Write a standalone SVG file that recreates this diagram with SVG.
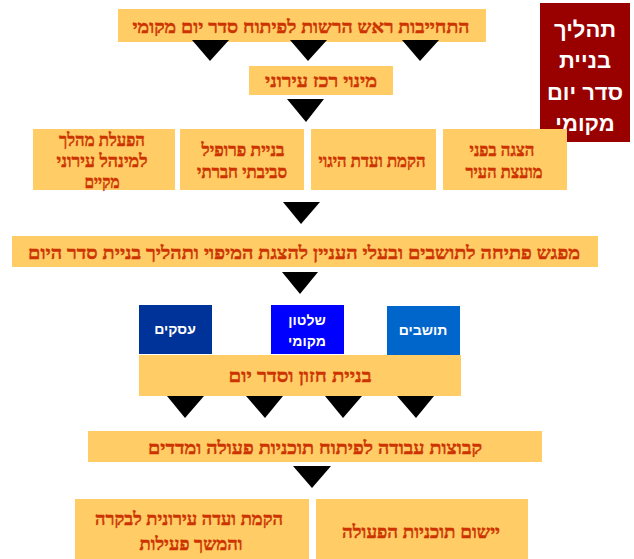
<svg xmlns="http://www.w3.org/2000/svg" width="634" height="559" viewBox="0 0 634 559">
<style>
.b{fill:#FFCC66;}
.t{font-family:"Liberation Serif","DejaVu Sans",serif;font-weight:bold;fill:#CC3300;stroke:#CC3300;stroke-width:0.45;text-anchor:middle;font-size:18px;}
.w{font-family:"Liberation Sans","DejaVu Sans",sans-serif;font-weight:bold;fill:#FFFFFF;text-anchor:middle;}
.a{fill:#000000;}
</style>
<rect x="0" y="0" width="634" height="559" fill="#FFFFFF"/>
<g id="title">
<rect x="540" y="3" width="90" height="139" fill="#990000"/>
<text class="w" font-size="22" x="585" y="37">תהליך</text>
<text class="w" font-size="22" x="585" y="68">בניית</text>
<text class="w" font-size="22" x="585" y="100">סדר יום</text>
<text class="w" font-size="22" x="585" y="131">מקומי</text>
</g>
<g id="n1"><rect class="b" x="118" y="9" width="368" height="33"/><text class="t" x="301" y="33" font-size="19" textLength="337" lengthAdjust="spacingAndGlyphs">התחייבות ראש הרשות לפיתוח סדר יום מקומי</text></g>
<g id="n2"><rect class="b" x="249" y="66" width="144" height="29"/><text class="t" x="321" y="87" textLength="112" lengthAdjust="spacingAndGlyphs">מינוי רכז עירוני</text></g>
<g id="n3"><rect class="b" x="33" y="129" width="142" height="61"/><text class="t" x="102" y="146" textLength="86" lengthAdjust="spacingAndGlyphs">הפעלת מהלך</text><text class="t" x="102" y="167" textLength="91" lengthAdjust="spacingAndGlyphs">למינהל עירוני</text><text class="t" x="102" y="188" textLength="35" lengthAdjust="spacingAndGlyphs">מקיים</text></g>
<g id="n4"><rect class="b" x="180" y="129" width="124" height="61"/><text class="t" x="243" y="156" textLength="83" lengthAdjust="spacingAndGlyphs">בניית פרופיל</text><text class="t" x="242" y="178" textLength="90" lengthAdjust="spacingAndGlyphs">סביבתי חברתי</text></g>
<g id="n5"><rect class="b" x="311" y="129" width="125" height="61"/><text class="t" x="372" y="167" textLength="107" lengthAdjust="spacingAndGlyphs">הקמת ועדת היגוי</text></g>
<g id="n6"><rect class="b" x="443" y="129" width="124" height="61"/><text class="t" x="502" y="156" textLength="65" lengthAdjust="spacingAndGlyphs">הצגה בפני</text><text class="t" x="504" y="178" textLength="77" lengthAdjust="spacingAndGlyphs">מועצת העיר</text></g>
<g id="n7"><rect class="b" x="12" y="236" width="586" height="31"/><text class="t" x="304" y="259" font-size="19" textLength="552" lengthAdjust="spacingAndGlyphs">מפגש פתיחה לתושבים ובעלי העניין להצגת המיפוי ותהליך בניית סדר היום</text></g>
<g id="n8"><rect x="139" y="305" width="73" height="49" fill="#003399"/><text class="w" font-size="14" x="175" y="334">עסקים</text></g>
<g id="n9"><rect x="271" y="305" width="73" height="49" fill="#0000FF"/><text class="w" font-size="14" x="307" y="325">שלטון</text><text class="w" font-size="14" x="307" y="346">מקומי</text></g>
<g id="n10"><rect x="387" y="306" width="73" height="49" fill="#0066CC"/><text class="w" font-size="14" x="423" y="335">תושבים</text></g>
<g id="n11"><rect class="b" x="139" y="355" width="322" height="41"/><text class="t" x="300" y="382" font-size="19" textLength="143" lengthAdjust="spacingAndGlyphs">בניית חזון וסדר יום</text></g>
<g id="n12"><rect class="b" x="88" y="431" width="454" height="31"/><text class="t" x="315" y="454" font-size="19" textLength="334" lengthAdjust="spacingAndGlyphs">קבוצות עבודה לפיתוח תוכניות פעולה ומדדים</text></g>
<g id="n13"><rect class="b" x="75" y="499" width="234" height="60"/><text class="t" x="189" y="525" textLength="188" lengthAdjust="spacingAndGlyphs">הקמת ועדה עירונית לבקרה</text><text class="t" x="191" y="550" textLength="103" lengthAdjust="spacingAndGlyphs">והמשך פעילות</text></g>
<g id="n14"><rect class="b" x="316" y="499" width="212" height="60"/><text class="t" x="421" y="538" textLength="158" lengthAdjust="spacingAndGlyphs">יישום תוכניות הפעולה</text></g>
<g id="connectors">
<polygon class="a" points="192,40 229,40 210,61"/>
<polygon class="a" points="290,40 327,40 308,61"/>
<polygon class="a" points="402,40 439,40 420,61"/>
<polygon class="a" points="287,99 324,99 306,122"/>
<polygon class="a" points="283,202 320,202 301,224"/>
<polygon class="a" points="282,272 318,272 300,294"/>
<polygon class="a" points="167,396 204,396 185,418"/>
<polygon class="a" points="246,396 283,396 265,418"/>
<polygon class="a" points="325,396 362,396 343,418"/>
<polygon class="a" points="397,396 434,396 416,418"/>
<polygon class="a" points="293,466 331,466 312,488"/>
</g>
</svg>
